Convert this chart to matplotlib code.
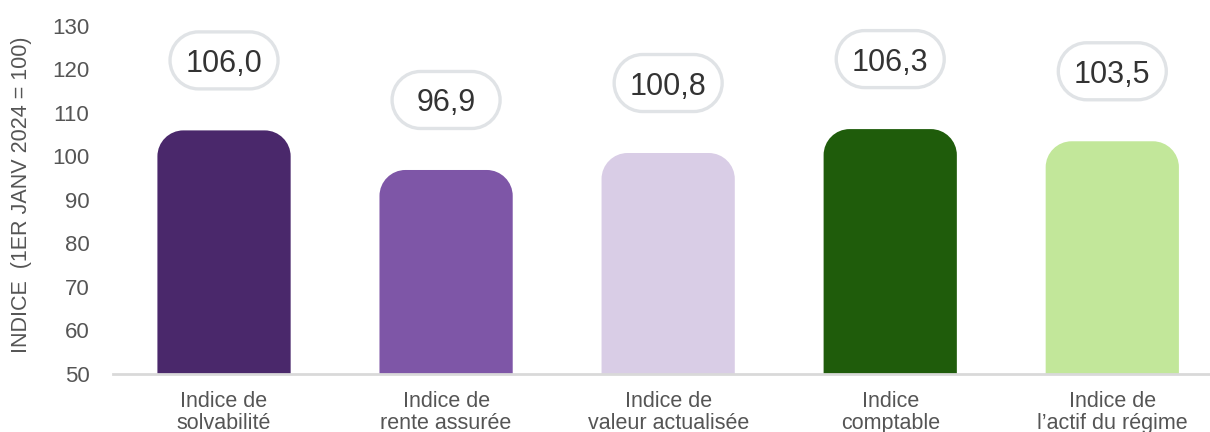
import matplotlib
matplotlib.use("Agg")
import matplotlib.pyplot as plt
from matplotlib.path import Path
from matplotlib.patches import PathPatch
from matplotlib.transforms import IdentityTransform

categories = ["Indice de\nsolvabilité", "Indice de\nrente assurée", "Indice de\nvaleur actualisée",
              "Indice\ncomptable", "Indice de\nl’actif du régime"]
values = [106.0, 96.9, 100.8, 106.3, 103.5]
value_labels = ["106,0", "96,9", "100,8", "106,3", "103,5"]
colors = ["#4a286b", "#7e56a7", "#d9cde6", "#1f5c0b", "#c2e79a"]
yticks = [50, 60, 70, 80, 90, 100, 110, 120, 130]

plt.rcParams['font.family'] = ['Liberation Sans', 'DejaVu Sans']

fig = plt.figure(figsize=(12.10, 4.32), dpi=100)
ax = fig.add_axes([113/1210, 1-374/432, 1-113/1210, (374-26)/432])
ax.set_ylim(50, 130)
ax.set_xlim(-0.5, 4.44)

x = list(range(len(values)))
bars = ax.bar(x, [v - 50 for v in values], bottom=50, width=0.6, color="none", edgecolor="none")

k = 0.5523

# rounded top corners in pixel radius converted to data units
px_per_x = (1210 - 113) / (4.44 + 0.5)
px_per_y = (374 - 26) / 80
r_px = 26
rx = r_px / px_per_x
ry = r_px / px_per_y
for b, c in zip(bars, colors):
    x0 = b.get_x(); w = b.get_width(); y0 = b.get_y(); h = b.get_height()
    x1 = x0 + w; y1 = y0 + h
    verts = [
        (x0, y0), (x0, y1 - ry),
        (x0, y1 - ry + k*ry), (x0 + rx - k*rx, y1), (x0 + rx, y1),
        (x1 - rx, y1),
        (x1 - rx + k*rx, y1), (x1, y1 - ry + k*ry), (x1, y1 - ry),
        (x1, y0), (x0, y0)]
    codes = [Path.MOVETO, Path.LINETO,
             Path.CURVE4, Path.CURVE4, Path.CURVE4,
             Path.LINETO,
             Path.CURVE4, Path.CURVE4, Path.CURVE4,
             Path.LINETO, Path.CLOSEPOLY]
    ax.add_patch(PathPatch(Path(verts, codes), facecolor=c, edgecolor="none", zorder=2))


def pill_path(cx, cy, w, h):
    r = h / 2
    l, rt = cx - w/2 + r, cx + w/2 - r
    b, t = cy - r, cy + r
    verts = [(l, b), (rt, b),
             (rt + k*r, b), (rt + r, cy - k*r), (rt + r, cy),
             (rt + r, cy + k*r), (rt + k*r, t), (rt, t),
             (l, t),
             (l - k*r, t), (l - r, cy + k*r), (l - r, cy),
             (l - r, cy - k*r), (l - k*r, b), (l, b),
             (l, b)]
    codes = [Path.MOVETO, Path.LINETO,
             Path.CURVE4, Path.CURVE4, Path.CURVE4,
             Path.CURVE4, Path.CURVE4, Path.CURVE4,
             Path.LINETO,
             Path.CURVE4, Path.CURVE4, Path.CURVE4,
             Path.CURVE4, Path.CURVE4, Path.CURVE4,
             Path.CLOSEPOLY]
    return Path(verts, codes)


# pill-shaped value labels, fixed pixel size, 70 px above bar top
box_w, box_h, lift = 108, 57, 70
for xi, v, lab in zip(x, values, value_labels):
    cx, cy = ax.transData.transform((xi, v))
    cy += lift
    ax.add_patch(PathPatch(pill_path(cx, cy, box_w, box_h), facecolor="white",
                           edgecolor="#e0e3e6", linewidth=2.4,
                           transform=IdentityTransform(), clip_on=False, zorder=3))
    ax.annotate(lab, xy=(xi, v), xytext=(0, lift), textcoords="offset pixels",
                ha="center", va="center_baseline", fontsize=22, color="#333333", zorder=4)

ax.set_yticks(yticks)
ax.set_yticklabels([str(t) for t in yticks], fontsize=16, color="#555555")
ax.set_xticks(x)
ax.set_xticklabels(categories, fontsize=15.5, color="#555555", linespacing=1.1)
ax.tick_params(axis="y", length=0, pad=17)
ax.tick_params(axis="x", length=0, pad=12)
for s in ["top", "right", "left"]:
    ax.spines[s].set_visible(False)
ax.spines["bottom"].set_color("#d9d9d9")
ax.spines["bottom"].set_linewidth(2)

fig.text(22/1210, 1-195/432, "INDICE  (1ER JANV 2024 = 100)", rotation=90, ha="center", va="center",
         fontsize=15.5, color="#555555")

fig.savefig("out.png", dpi=100)
